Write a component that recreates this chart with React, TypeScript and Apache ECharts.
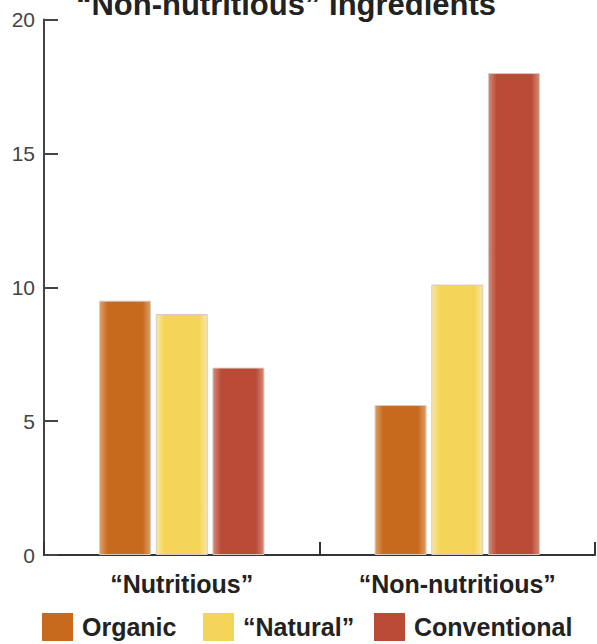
import React, { useEffect, useRef } from "react";
import * as echarts from "echarts";

// Categories along the x axis
const categories = ["“Nutritious”", "“Non-nutritious”"];

// Series names and values (count of ingredients)
const seriesNames = ["Organic", "“Natural”", "Conventional"];
const organicValues = [9.5, 5.6];
const naturalValues = [9.0, 10.1];
const conventionalValues = [7.0, 18.0];

// Y-axis range
const yMin = 0;
const yMax = 20;
const yStep = 5;

const chartTitle = "“Non-nutritious” Ingredients";

const FONT = "'Liberation Sans', Arial, Helvetica, sans-serif";

// core colour, soft edge colour
const palette = [
  ["#c86a1d", "#dea06a"],
  ["#f5d558", "#f9e7a2"],
  ["#b94b36", "#d6897a"],
];

function softFill(core: string, edge: string) {
  return new echarts.graphic.LinearGradient(0, 0, 1, 0, [
    { offset: 0, color: edge },
    { offset: 0.16, color: core },
    { offset: 0.84, color: core },
    { offset: 1, color: edge },
  ]);
}

export default function App() {
  const ref = useRef<HTMLDivElement>(null);

  useEffect(() => {
    document.body.style.margin = "0";
    if (!ref.current) return;
    const chart = echarts.init(ref.current, undefined, { renderer: "svg" });

    const values = [organicValues, naturalValues, conventionalValues];
    const legendLefts = [42, 203, 374];

    chart.setOption({
      animation: false,
      grid: { left: 44, right: 2, top: 19.5, bottom: 89, containLabel: false },
      graphic: [
        {
          type: "text",
          x: 286,
          y: 20,
          style: {
            text: chartTitle,
            fill: "#222",
            font: `bold 31px ${FONT}`,
            align: "center",
            verticalAlign: "bottom",
          },
        },
      ],
      legend: seriesNames.map((name, i) => ({
        left: legendLefts[i],
        top: 613,
        orient: "horizontal",
        selectedMode: false,
        itemWidth: 31,
        itemHeight: 28,
        padding: 0,
        data: [
          {
            name,
            icon: "rect",
            itemStyle: { color: palette[i][0], borderWidth: 0 },
          },
        ],
        textStyle: {
          fontFamily: FONT,
          fontWeight: "bold",
          fontSize: 25,
          color: "#222",
          padding: [4, 0, 0, 4],
        },
      })),
      xAxis: {
        type: "category",
        data: categories,
        boundaryGap: true,
        axisLine: { show: true, lineStyle: { color: "#333", width: 2 } },
        axisTick: {
          show: true,
          inside: true,
          length: 13,
          lineStyle: { color: "#333", width: 2 },
        },
        axisLabel: {
          margin: 16,
          fontFamily: FONT,
          fontWeight: "bold",
          fontSize: 25,
          color: "#222",
        },
      },
      yAxis: {
        type: "value",
        min: yMin,
        max: yMax,
        interval: yStep,
        splitLine: { show: false },
        axisLine: { show: true, lineStyle: { color: "#444", width: 2 } },
        axisTick: {
          show: true,
          inside: true,
          length: 14,
          lineStyle: { color: "#444", width: 2 },
        },
        axisLabel: {
          margin: 9,
          fontFamily: FONT,
          fontSize: 21,
          color: "#444",
          padding: [4, 0, 0, 0],
        },
      },
      series: seriesNames.map((name, i) => ({
        name,
        type: "bar",
        data: values[i],
        barWidth: 52,
        barGap: "9%",
        itemStyle: {
          color: softFill(palette[i][0], palette[i][1]),
          borderColor: "#d3ccc5",
          borderWidth: 1,
        },
      })),
    });

    return () => chart.dispose();
  }, []);

  return <div ref={ref} style={{ width: 597, height: 644 }} />;
}
